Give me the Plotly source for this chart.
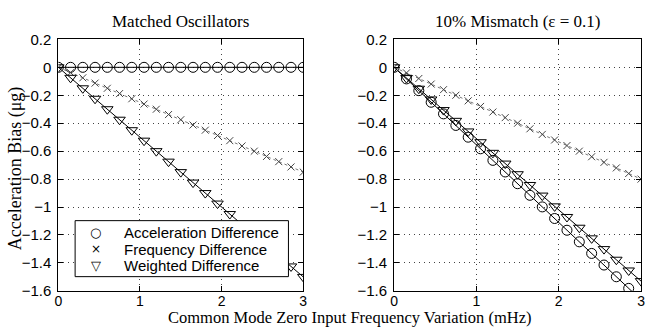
import plotly.graph_objects as go

# Common-mode zero-input frequency variation (mHz)
x_vals = [0.0, 0.15, 0.3, 0.45, 0.6, 0.75, 0.9, 1.05, 1.2, 1.35, 1.5,
          1.65, 1.8, 1.95, 2.1, 2.25, 2.4, 2.55, 2.7, 2.85, 3.0]

# Matched oscillators
left_acc = [0.0] * 21
left_freq = [0, -0.038, -0.075, -0.113, -0.15, -0.188, -0.225, -0.263, -0.3, -0.338, -0.375,
             -0.413, -0.45, -0.488, -0.525, -0.563, -0.6, -0.638, -0.675, -0.713, -0.75]
left_wtd = [0, -0.075, -0.15, -0.225, -0.3, -0.375, -0.45, -0.525, -0.6, -0.675, -0.75,
            -0.825, -0.9, -0.975, -1.05, -1.125, -1.2, -1.275, -1.35, -1.425, -1.5]

# 10% mismatch
right_acc = [0, -0.083, -0.167, -0.25, -0.333, -0.416, -0.5, -0.583, -0.666, -0.749, -0.833,
             -0.916, -0.999, -1.082, -1.166, -1.249, -1.332, -1.415, -1.499, -1.582, -1.665]
right_freq = [0, -0.04, -0.08, -0.12, -0.16, -0.2, -0.24, -0.28, -0.32, -0.36, -0.4,
              -0.44, -0.48, -0.52, -0.56, -0.6, -0.64, -0.68, -0.72, -0.76, -0.8]
right_wtd = [0, -0.077, -0.153, -0.23, -0.306, -0.383, -0.459, -0.536, -0.612, -0.689, -0.765,
             -0.842, -0.918, -0.995, -1.071, -1.148, -1.224, -1.301, -1.377, -1.454, -1.53]

series_names = ["Acceleration Difference", "Frequency Difference", "Weighted Difference"]
legend_glyphs = ["\u25cb", "\u00d7", "\u25bd"]
y_ticks = [0.2, 0, -0.2, -0.4, -0.6, -0.8, -1, -1.2, -1.4, -1.6]
y_tick_text = ["0.2", "0", "\u22120.2", "\u22120.4", "\u22120.6", "\u22120.8", "\u22121",
               "\u22121.2", "\u22121.4", "\u22121.6"]
x_ticks = [0, 1, 2, 3]

SERIF = "Liberation Serif, Times New Roman, serif"
SANS = "Liberation Sans, Arial, sans-serif"

fig = go.Figure()

styles = [
    dict(symbol="circle-open", size=10, color="black"),
    dict(symbol="x-thin-open", size=7, color="#444"),
    dict(symbol="triangle-down-open", size=10, color="black"),
]
line_styles = [
    dict(color="black", width=1),
    dict(color="#777", width=1, dash="dot"),
    dict(color="black", width=1),
]

for (xa, ya, data) in [("x", "y", [left_acc, left_freq, left_wtd]),
                       ("x2", "y2", [right_acc, right_freq, right_wtd])]:
    for i, ys in enumerate(data):
        fig.add_trace(go.Scatter(x=x_vals, y=ys, mode="lines", line=line_styles[i],
                                 showlegend=False, xaxis=xa, yaxis=ya, hoverinfo="skip"))
    for i, ys in enumerate(data):
        st = styles[i]
        fig.add_trace(go.Scatter(x=x_vals, y=ys, mode="markers", name=series_names[i],
                                 marker=dict(symbol=st["symbol"], size=st["size"],
                                             color=st["color"], line=dict(width=1, color=st["color"])),
                                 showlegend=False, xaxis=xa, yaxis=ya))

H = 334
W = 648
ydom = [1 - 297 / H, 1 - 32 / H]

grid = dict(showgrid=True, gridcolor="#444", griddash="1px,4px", gridwidth=1)
axis_common = dict(range=[0, 3], tickvals=x_ticks, ticks="inside", ticklen=5, tickcolor="black",
                   showline=True, linecolor="black", linewidth=1, mirror="ticks",
                   zeroline=False, tickfont=dict(family=SANS, size=14, color="black"),
                   ticklabelstandoff=-3, **grid)
yaxis_common = dict(range=[-1.6, 0.2], tickvals=y_ticks, ticktext=y_tick_text, ticks="inside",
                    ticklen=5, tickcolor="black", showline=True, linecolor="black", linewidth=1,
                    mirror="ticks", zeroline=False,
                    tickfont=dict(family=SANS, size=15, color="black"),
                    ticklabelstandoff=3, domain=ydom, **grid)

# manual legend box (left panel)
lg_x0, lg_x1, lg_y0, lg_y1 = 72, 288, 223, 282
shapes = [dict(type="rect", xref="paper", yref="paper",
               x0=lg_x0 / W, x1=lg_x1 / W, y0=1 - lg_y1 / H, y1=1 - lg_y0 / H,
               line=dict(color="black", width=1), fillcolor="white", layer="above")]
annotations = [
    dict(text="Matched Oscillators", x=179 / W, y=1 - 13 / H, xref="paper", yref="paper",
         showarrow=False, font=dict(family=SERIF, size=17, color="black"),
         xanchor="center", yanchor="middle"),
    dict(text="10% Mismatch (\u03b5 = 0.1)", x=520 / W, y=1 - 13 / H, xref="paper", yref="paper",
         showarrow=False, font=dict(family=SERIF, size=17, color="black"),
         xanchor="center", yanchor="middle"),
    dict(text="Common Mode Zero Input Frequency Variation (mHz)", x=350 / W, y=0,
         xref="paper", yref="paper", showarrow=False, borderpad=0, yshift=-2,
         font=dict(family=SERIF, size=16.5, color="black"), xanchor="center", yanchor="bottom"),
    dict(text="Acceleration Bias (\u03bcg)", x=12 / W, y=1 - 168 / H, xref="paper", yref="paper",
         showarrow=False, textangle=-90, font=dict(family=SERIF, size=18, color="black"),
         xanchor="center", yanchor="middle"),
]
for i, name in enumerate(series_names):
    yc = 236 + i * 17
    annotations.append(dict(text=legend_glyphs[i], x=93 / W, y=1 - yc / H, xref="paper",
                            yref="paper", showarrow=False, xanchor="center", yanchor="middle",
                            font=dict(family="DejaVu Sans", size=13 if i != 1 else 12,
                                      color="black")))
    annotations.append(dict(text=name, x=119 / W, y=1 - yc / H, xref="paper", yref="paper",
                            showarrow=False, xanchor="left", yanchor="middle",
                            font=dict(family=SANS, size=15, color="black")))

fig.update_layout(
    width=W, height=H,
    margin=dict(l=0, r=0, t=0, b=0),
    paper_bgcolor="white", plot_bgcolor="white",
    showlegend=False,
    xaxis=dict(axis_common, domain=[55 / W, 303 / W], anchor="y"),
    yaxis=dict(yaxis_common, anchor="x"),
    xaxis2=dict(axis_common, domain=[395 / W, 645 / W], anchor="y2"),
    yaxis2=dict(yaxis_common, anchor="x2"),
    shapes=shapes,
    annotations=annotations,
)

fig.write_html("out.html")
